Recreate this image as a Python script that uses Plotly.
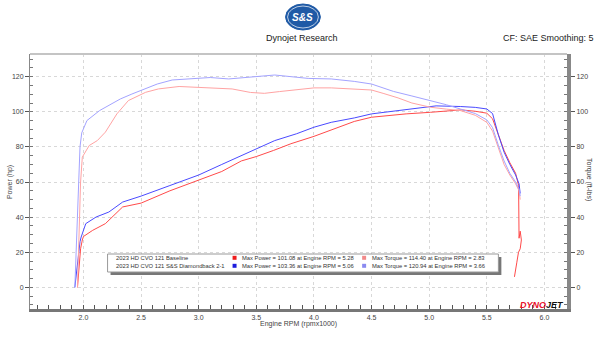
import plotly.graph_objects as go

# ---------------- data ----------------
base_power_rpm = [1.948, 1.96, 1.975, 1.99, 2.0, 2.08, 2.19, 2.34, 2.5, 2.75, 3.0, 3.2, 3.37, 3.5, 3.65,
                  3.8, 4.0, 4.15, 4.24, 4.35, 4.5, 4.65, 4.8, 5.01, 5.15, 5.28, 5.4, 5.5, 5.55, 5.6,
                  5.65, 5.7, 5.75, 5.776, 5.776, 5.78, 5.79, 5.80, 5.79, 5.775, 5.76, 5.745, 5.74]
base_power_hp = [0, 12, 22, 27, 29, 32.5, 36.3, 45.8, 48, 55, 61, 66, 72, 74.5, 78,
                 81.8, 86, 89.7, 92, 94.5, 96.9, 98, 98.8, 99.7, 100.4, 101.08, 100.3, 99.2, 96, 87,
                 78, 71, 65, 58, 40, 28, 32, 27, 22, 20, 14, 8, 6]

ss_power_rpm = [1.925, 1.94, 1.955, 1.97, 1.98, 2.02, 2.11, 2.22, 2.34, 2.5, 2.75, 3.0, 3.2, 3.4, 3.66,
                3.85, 4.0, 4.15, 4.24, 4.35, 4.5, 4.65, 4.8, 5.06, 5.27, 5.4, 5.5, 5.55, 5.6, 5.65,
                5.7, 5.75, 5.78, 5.79]
ss_power_hp = [0, 10, 20, 26, 28.7, 36.3, 40.1, 42.9, 48.6, 52, 58, 64, 70, 76, 83.6,
               87.5, 91.2, 94, 95, 96.5, 98.8, 100, 101, 103.36, 103, 102.5, 101.6, 99, 87, 77,
               70, 64, 59, 53.5]

ss_torque_rpm = [1.925, 1.94, 1.955, 1.97, 1.985, 2.03, 2.14, 2.22, 2.32, 2.42, 2.53, 2.64, 2.77, 2.97,
                 3.1, 3.26, 3.45, 3.66, 3.8, 3.95, 4.15, 4.24, 4.35, 4.5, 4.69, 4.85, 5.01, 5.15,
                 5.27, 5.4, 5.5, 5.55, 5.6, 5.65, 5.7, 5.75, 5.78, 5.79]
ss_torque_ftlb = [0, 25, 55, 80, 88, 95, 100.7, 103.5, 107.3, 110.1, 113, 115.8, 118.1, 119.2,
                  119.5, 118.7, 119.6, 120.94, 120, 119, 118.7, 118.1, 117.3, 115.8, 111.6, 109, 106.4, 104,
                  101.6, 99, 95.4, 91, 81, 72, 65, 60, 56, 52]

base_torque_rpm = [1.948, 1.96, 1.975, 1.99, 2.05, 2.12, 2.19, 2.29, 2.39, 2.54, 2.65, 2.83, 2.97, 3.15,
                   3.29, 3.45, 3.57, 3.7, 3.83, 4.0, 4.15, 4.24, 4.5, 4.6, 4.73, 4.85, 5.01, 5.15,
                   5.27, 5.4, 5.5, 5.55, 5.6, 5.65, 5.7, 5.75, 5.78, 5.79]
base_torque_ftlb = [0, 30, 60, 74.2, 80.8, 83.6, 88.4, 98.8, 106.4, 111.1, 113, 114.4, 114, 113.8,
                    113, 111, 110.5, 111.5, 112.4, 113.6, 113.6, 113.3, 112.4, 110.5, 107.9, 105, 102.6, 101.5,
                    100.7, 98, 94, 89, 79, 70, 64, 59, 55, 50]

run_names = ["2023 HD CVO 121 Baseline", "2023 HD CVO 121 S&S Diamondback 2-1"]
max_power = [101.08, 103.36]
max_power_rpm = [5.28, 5.06]
max_torque = [114.40, 120.94]
max_torque_rpm = [2.83, 3.66]

x_ticks = [2.0, 2.5, 3.0, 3.5, 4.0, 4.5, 5.0, 5.5, 6.0]
y_ticks = [0, 20, 40, 60, 80, 100, 120]

# ---------------- styling ----------------
W, H = 600, 337
L, R, T, B = 27, 567, 54, 309
FONT = "Liberation Sans, Arial, sans-serif"
C_BP, C_BT = "#ff4a4a", "#ffa3a3"
C_SP, C_ST = "#4a4aff", "#a3a3ff"
SQ = ["#ee1c1c", "#f28a8a"], ["#1c1cdd", "#8a8af0"]


def px(x):
    return (x - L) / (R - L)


def py(y):
    return (B - y) / (B - T)


fig = go.Figure()
fig.add_trace(go.Scatter(x=base_torque_rpm, y=base_torque_ftlb, mode="lines", yaxis="y2",
                         line=dict(color=C_BT, width=1), hoverinfo="skip"))
fig.add_trace(go.Scatter(x=ss_torque_rpm, y=ss_torque_ftlb, mode="lines", yaxis="y2",
                         line=dict(color=C_ST, width=1), hoverinfo="skip"))
fig.add_trace(go.Scatter(x=base_power_rpm, y=base_power_hp, mode="lines",
                         line=dict(color=C_BP, width=1), hoverinfo="skip"))
fig.add_trace(go.Scatter(x=ss_power_rpm, y=ss_power_hp, mode="lines",
                         line=dict(color=C_SP, width=1), hoverinfo="skip"))

yr = [-12.3, 132.9]
fig.update_layout(
    width=W, height=H, showlegend=False,
    margin=dict(l=L, r=W - R, t=T, b=H - B),
    paper_bgcolor="white", plot_bgcolor="white",
    font=dict(family=FONT, color="#444", size=7),
    xaxis=dict(range=[1.536, 6.196], tickvals=x_ticks, ticktext=[f"{v:.1f}" for v in x_ticks],
               ticks="inside", ticklen=4, tickcolor="#555",
               minor=dict(dtick=0.1, tick0=0, ticks="inside", ticklen=4, tickcolor="#555", showgrid=False),
               showgrid=True, gridcolor="#d8d8d8", griddash="dot", gridwidth=1,
               showline=True, linecolor="#777", linewidth=3, zeroline=False,
               tickfont=dict(size=7, color="#444")),
    yaxis=dict(range=yr, tickvals=y_ticks, ticks="outside", ticklen=4, tickcolor="#555",
               minor=dict(dtick=5, tick0=0, ticks="inside", ticklen=3, tickcolor="#777", showgrid=False),
               showgrid=True, gridcolor="#d8d8d8", griddash="dot", gridwidth=1,
               showline=True, linecolor="#888", linewidth=1, zeroline=False,
               tickfont=dict(size=7, color="#444")),
    yaxis2=dict(range=yr, overlaying="y", side="right", tickvals=y_ticks, ticks="outside", ticklen=4,
                tickcolor="#555",
                minor=dict(dtick=5, tick0=0, ticks="inside", ticklen=3, tickcolor="#777"),
                showgrid=False, showline=True, linecolor="#888", linewidth=4, zeroline=False,
                tickfont=dict(size=7, color="#444")),
)

shapes = []
ann = []
# top frame line
shapes.append(dict(type="line", xref="paper", yref="paper", x0=0, x1=1, y0=1, y1=1,
                   line=dict(color="#c4c4c4", width=2)))
# logo (S&S oval)
shapes.append(dict(type="circle", xref="paper", yref="paper", x0=px(284), x1=px(319), y0=py(30), y1=py(4),
                   fillcolor="#1f5aa6", line=dict(color="#1f5aa6", width=1)))
shapes.append(dict(type="circle", xref="paper", yref="paper", x0=px(286), x1=px(317), y0=py(28), y1=py(6),
                   fillcolor="rgba(0,0,0,0)", line=dict(color="white", width=0.7)))
ann.append(dict(text="<b><i>S&amp;S</i></b>", x=px(301.5), y=py(17), xref="paper", yref="paper",
                showarrow=False, font=dict(size=10, color="white", family=FONT), xanchor="center",
                yanchor="middle"))
# titles
ann.append(dict(text="Dynojet Research", x=px(301), y=py(38), xref="paper", yref="paper", showarrow=False,
                font=dict(size=9, color="#222"), xanchor="center", yanchor="middle"))
ann.append(dict(text="CF: SAE Smoothing: 5", x=px(596), y=py(38), xref="paper", yref="paper",
                showarrow=False, font=dict(size=9, color="#222"), xanchor="right", yanchor="middle"))
# axis titles
ann.append(dict(text="Power (hp)", x=px(7), y=py(182), xref="paper", yref="paper", showarrow=False,
                textangle=-90, font=dict(size=7, color="#444"), xanchor="center", yanchor="middle"))
ann.append(dict(text="Torque (ft-lbs)", x=px(589), y=py(180), xref="paper", yref="paper",
                showarrow=False, textangle=90, font=dict(size=7, color="#444"), xanchor="center",
                yanchor="middle"))
ann.append(dict(text="Engine RPM (rpmx1000)", x=px(297), y=py(324), xref="paper", yref="paper",
                showarrow=False, font=dict(size=7, color="#444"), xanchor="center", yanchor="middle"))
# Dynojet logo
ann.append(dict(text="<b><i><span style='color:#e8102a'>DYNO</span>JET</i></b>", x=px(566), y=py(305),
                xref="paper", yref="paper", showarrow=False, font=dict(size=9, color="#111", family=FONT),
                xanchor="right", yanchor="middle"))
# legend box
shapes.append(dict(type="rect", xref="paper", yref="paper", x0=px(108), x1=px(501), y0=py(275), y1=py(257),
                   fillcolor="#777", line=dict(width=0)))
shapes.append(dict(type="rect", xref="paper", yref="paper", x0=px(105), x1=px(498), y0=py(272), y1=py(254),
                   fillcolor="white", line=dict(color="#999", width=1)))
LF = 5.8
for i, name in enumerate(run_names):
    yc = 257.8 + 8 * i
    yy = py(yc)
    ann.append(dict(text=name, x=px(111), y=yy, xref="paper", yref="paper", showarrow=False,
                    font=dict(size=LF, color="#333"), xanchor="left", yanchor="middle"))
    for sx, col in ((232.7, SQ[i][0]), (363, SQ[i][1])):
        shapes.append(dict(type="rect", xref="paper", yref="paper", x0=px(sx - 2), x1=px(sx + 2),
                           y0=py(yc + 2), y1=py(yc - 2), fillcolor=col, line=dict(width=0)))
    ann.append(dict(text=f"Max Power = {max_power[i]:.2f} at Engine RPM = {max_power_rpm[i]:.2f}",
                    x=px(238), y=yy, xref="paper", yref="paper", showarrow=False,
                    font=dict(size=LF, color="#333"), xanchor="left", yanchor="middle"))
    ann.append(dict(text=f"Max Torque = {max_torque[i]:.2f} at Engine RPM = {max_torque_rpm[i]:.2f}",
                    x=px(368.5), y=yy, xref="paper", yref="paper", showarrow=False,
                    font=dict(size=LF, color="#333"), xanchor="left", yanchor="middle"))

fig.update_layout(shapes=shapes, annotations=ann)
fig.write_html("out.html")
